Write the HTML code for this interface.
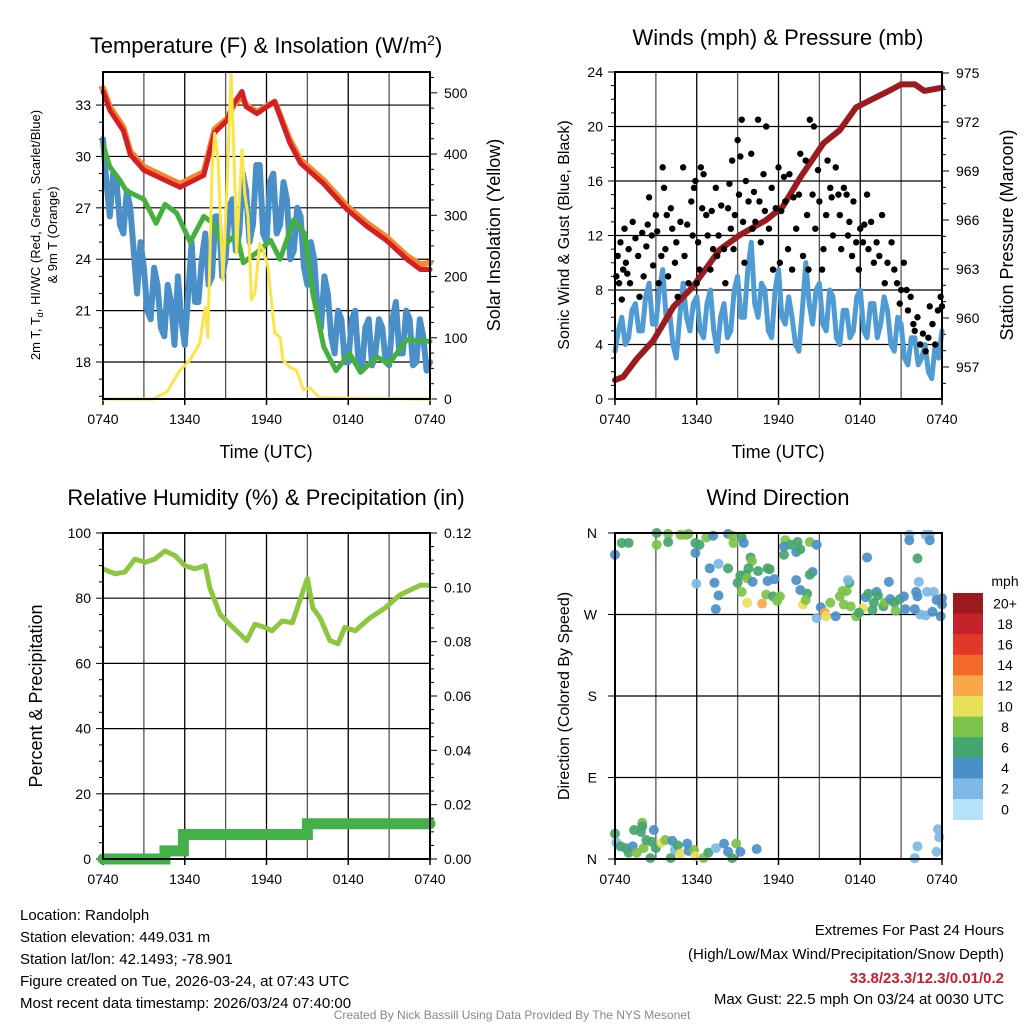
<!DOCTYPE html>
<html><head><meta charset="utf-8"><style>
body{margin:0;background:#fff;}
svg{display:block;font-family:"Liberation Sans",Arial,sans-serif;}
</style></head><body>
<svg id="c" width="1024" height="1024" viewBox="0 0 1024 1024" xmlns="http://www.w3.org/2000/svg">
<rect width="1024" height="1024" fill="#fff"/>
<text x="266" y="53" font-size="22" text-anchor="middle">Temperature (F) &amp; Insolation (W/m<tspan dy="-8" font-size="14">2</tspan><tspan dy="8">)</tspan></text>
<text x="778" y="45" font-size="22" text-anchor="middle">Winds (mph) &amp; Pressure (mb)</text>
<text x="266" y="505" font-size="22" text-anchor="middle">Relative Humidity (%) &amp; Precipitation (in)</text>
<text x="778" y="505" font-size="22" text-anchor="middle">Wind Direction</text>
<text x="266" y="458" font-size="18" text-anchor="middle">Time (UTC)</text>
<text x="778" y="458" font-size="18" text-anchor="middle">Time (UTC)</text>
<text transform="translate(40,235) rotate(-90)" font-size="13" text-anchor="middle">2m T, T<tspan font-size="9" dy="3">d</tspan><tspan dy="-3">, HI/WC (Red, Green, Scarlet/Blue)</tspan></text>
<text transform="translate(57,235) rotate(-90)" font-size="13" text-anchor="middle">&amp; 9m T (Orange)</text>
<text transform="translate(500,235) rotate(-90)" font-size="18" text-anchor="middle">Solar Insolation (Yellow)</text>
<text transform="translate(569,235) rotate(-90)" font-size="16" text-anchor="middle">Sonic Wind &amp; Gust (Blue, Black)</text>
<text transform="translate(1013,235) rotate(-90)" font-size="18" text-anchor="middle">Station Pressure (Maroon)</text>
<text transform="translate(42,696) rotate(-90)" font-size="18" text-anchor="middle">Percent &amp; Precipitation</text>
<text transform="translate(569,696) rotate(-90)" font-size="16" text-anchor="middle">Direction (Colored By Speed)</text>
<g font-size="15">
<text x="20" y="920">Location: Randolph</text>
<text x="20" y="942">Station elevation: 449.031 m</text>
<text x="20" y="964">Station lat/lon: 42.1493; -78.901</text>
<text x="20" y="986">Figure created on Tue, 2026-03-24, at 07:43 UTC</text>
<text x="20" y="1008">Most recent data timestamp: 2026/03/24 07:40:00</text>
</g>
<g font-size="15" text-anchor="end">
<text x="1004" y="935">Extremes For Past 24 Hours</text>
<text x="1004" y="959">(High/Low/Max Wind/Precipitation/Snow Depth)</text>
<text x="1004" y="983" fill="#c8202a" font-weight="bold">33.8/23.3/12.3/0.01/0.2</text>
<text x="1004" y="1004">Max Gust: 22.5 mph On 03/24 at 0030 UTC</text>
</g>
<text x="512" y="1019" font-size="12" fill="#888" text-anchor="middle">Created By Nick Bassill Using Data Provided By The NYS Mesonet</text>
<g id="plots"></g>
</svg>
<script>
// ---- Temperature panel data ----
const redHours=[0,0.5,1.5,2,3,5.65,7.4,8.2,9.1,9.6,10.2,10.5,11.3,12.6,13.7,14.5,16.2,17.9,19.4,20.8,22.3,23.3,24];
const redTemps=[33.8,32.7,31.5,30.1,29.2,28.2,28.9,31.4,32.1,33.1,33.8,32.9,32.5,33.2,30.8,29.6,28.4,26.9,25.9,25.1,24.0,23.4,23.4];
const orangeTemps=[34.0,32.9,31.7,30.3,29.4,28.4,29.1,31.6,32.2,33.0,33.5,33.0,32.6,33.2,31.0,29.8,28.6,27.1,26.1,25.3,24.2,23.7,23.8];
const greenHours=[0,0.5,1.25,1.7,3,3.9,4.55,5.4,6.4,7.4,8.1,8.8,9.8,10.3,11.3,12.3,13,14,14.8,15.4,16.2,17.1,18.1,18.9,20.1,21,22.3,24];
const greenTemps=[30.7,29.4,28.6,28.0,27.5,26.1,27.2,26.7,25.0,26.5,26.1,24.7,25.5,23.8,24.4,25.1,24.0,26.3,25.5,22.0,18.9,17.5,18.5,17.4,18.3,17.9,19.3,19.2];
const blueTemps=[31.0,28.5,26.5,29,28.5,26,25.5,28,27,24.5,22,25,23.5,21,20.5,23.5,22.5,20,19.5,22.5,21.5,19,23,20.5,19,22,25,21.5,21.5,24,25.5,22.5,23,26.5,26.5,23,24,27,27.5,24.5,25.5,29,28,25,26,29.5,29.5,25.5,25,28.5,29,25.5,26,28.5,27.5,24,24.5,27,26.5,23.5,22.5,25,24,21,20,23,22,19.5,18.5,21,20.5,18,18,20.5,21,18,17.5,20,20.5,17.8,18.5,20.5,20,18,17.8,20.5,21.5,18.5,18.5,21,20.5,17.8,18,20.5,19.5,17.5,18.0];
const solarHours=[0,3.7,4.2,4.7,5.65,6.4,7.1,7.5,7.7,8.0,8.2,8.45,8.8,9.1,9.4,9.7,9.8,10.2,10.4,10.65,10.9,11.15,11.5,11.75,12.1,12.6,13,13.2,13.7,14.2,14.7,15.2,15.9,24];
const solarVals=[0,0,6,12,47,64,91,150,101,374,434,390,194,346,532,336,238,407,336,298,162,173,254,243,216,108,101,64,52,47,15,18,2,0];
const tempTicks=[18,21,24,27,30,33];
const solarTicks=[0,100,200,300,400,500];
const timeLabels=["0740","1340","1940","0140","0740"];
// ---- Wind panel data ----
const windSpeeds=[3.5,5,6,4,4.5,6.5,7,5,5,7.5,8.5,5.5,5.5,8,9.5,6,6.5,4,3,6,8.5,6,5,7,7.5,5,4.5,7,8,5,3.5,6,7,4.5,5,8,9,6,6,9.5,11.5,7,6,8.5,8,5,4.5,8,9.5,6,5.5,7.5,6,4,3.5,6.5,10,7,5.5,8,8.5,5.5,5,8,7.5,4.5,4,6.5,6.5,4.5,5,7.5,8,5,4.5,7,7,4.5,5.5,7.5,6.5,4,3.5,6,5.5,3,2.5,4.5,4.5,2.5,3,4,2,1.5,4,3,5];
const gustObs=[[0.1,9.0],[0.2,10.5],[0.3,8.5],[0.4,11.5],[0.5,7.3],[0.6,9.5],[0.7,12.5],[0.8,10.0],[0.9,9.2],[1.0,11.0],[1.1,8.5],[1.3,13.0],[1.5,11.8],[1.7,10.5],[1.8,7.5],[2.0,12.2],[2.1,9.0],[2.3,11.2],[2.4,12.8],[2.5,14.8],[2.7,12.0],[2.8,9.8],[3.0,13.5],[3.1,12.3],[3.2,8.5],[3.4,10.5],[3.5,17.0],[3.6,15.5],[3.7,11.0],[3.8,13.5],[3.9,9.0],[4.1,14.0],[4.2,12.5],[4.4,10.0],[4.5,11.5],[4.6,7.5],[4.8,13.0],[5.0,17.0],[5.1,10.5],[5.3,12.8],[5.4,8.5],[5.6,14.5],[5.7,12.0],[5.8,15.5],[5.9,16.0],[6.0,8.5],[6.1,11.5],[6.2,9.5],[6.3,17.0],[6.4,14.0],[6.5,16.5],[6.7,13.5],[6.8,12.0],[7.0,9.5],[7.1,13.8],[7.2,11.0],[7.4,15.5],[7.5,10.5],[7.6,12.0],[7.8,14.2],[8.0,11.0],[8.1,8.5],[8.3,14.0],[8.4,15.8],[8.5,12.5],[8.6,17.5],[8.7,11.0],[8.8,13.5],[9.0,19.0],[9.1,15.0],[9.2,17.8],[9.3,20.5],[9.4,13.0],[9.5,10.0],[9.6,16.0],[9.8,14.5],[10.0,18.0],[10.1,12.5],[10.2,15.2],[10.3,13.0],[10.5,20.5],[10.6,14.5],[10.7,11.5],[10.9,16.5],[11.0,13.8],[11.1,20.0],[11.3,12.5],[11.5,15.5],[11.6,9.5],[11.8,14.0],[12.0,17.0],[12.1,10.0],[12.2,13.8],[12.4,16.3],[12.5,14.5],[12.7,11.0],[12.8,16.5],[13.0,9.5],[13.1,14.8],[13.3,12.5],[13.5,15.0],[13.6,18.0],[13.8,10.5],[14.0,17.5],[14.1,13.5],[14.2,9.5],[14.3,20.5],[14.5,15.0],[14.6,20.0],[14.7,12.5],[14.9,16.8],[15.0,14.5],[15.2,9.5],[15.3,11.0],[15.5,13.5],[15.6,17.5],[15.8,15.5],[15.9,14.8],[16.0,12.0],[16.2,17.0],[16.4,15.0],[16.5,13.5],[16.6,11.0],[16.8,15.5],[17.0,15.0],[17.1,12.0],[17.2,13.0],[17.4,10.5],[17.5,14.5],[17.7,11.5],[17.9,9.5],[18.0,12.5],[18.2,11.5],[18.3,12.8],[18.5,15.0],[18.6,11.0],[18.8,13.0],[19.0,10.0],[19.2,11.5],[19.4,10.5],[19.6,13.5],[19.8,8.5],[20.0,10.0],[20.3,11.5],[20.5,9.5],[20.7,8.5],[20.9,7.0],[21.0,8.0],[21.2,10.0],[21.4,8.0],[21.5,6.5],[21.7,7.5],[21.9,5.5],[22.0,5.0],[22.2,6.0],[22.4,4.0],[22.6,4.8],[22.8,3.5],[23.0,4.5],[23.1,6.8],[23.3,5.5],[23.5,4.0],[23.7,6.5],[23.9,7.5],[24.0,6.8]];
const pressHours=[0,0.6,1.6,2.8,4.3,5.7,7.7,9.2,11.1,12.3,13.6,15.3,16.5,17.7,18.9,20.1,21,22,22.7,24];
const pressVals=[956.2,956.4,957.5,958.6,960.7,961.9,964.2,965.1,966.0,966.8,968.6,970.7,971.5,972.9,973.4,973.9,974.3,974.3,973.9,974.1];
const windTicks=[0,4,8,12,16,20,24];
const pressTicks=[957,960,963,966,969,972,975];
// ---- RH panel data ----
const rhHours=[0,0.9,1.6,2.35,3.1,3.8,4.55,5.3,6.0,6.75,7.5,7.85,8.6,9.3,10.05,10.55,11.15,11.9,12.4,13.15,13.9,14.5,15.0,15.4,15.925,16.65,17.25,17.75,18.5,19.6,20.7,21.8,22.55,23.3,24];
const rhVals=[89,87.5,88,92,91,92,94.5,93,90,89,90,83,75,72,69,67,72,71,70,73,72.5,80,86,77,74,67,66,71,70,74,77,81,82.5,84,84];
const precipHours=[0,4.55,4.55,5.9,5.9,15.0,15.0,24];
const precipVals=[0,0,0.003,0.003,0.009,0.009,0.013,0.013];
const rhTicks=[0,20,40,60,80,100];
const precipTicks=["0.00","0.02","0.04","0.06","0.08","0.10","0.12"];
// ---- Wind direction data: [hour, degrees, speed] ----
const dirObs=[[0,336,4],[0.5,349,6],[1.0,349,6],[3.06,360,6],[3.06,347,8],[3.9,359,8],[3.9,350,6],[4.8,358,8],[5.2,358,8],[5.4,359,8],[5.9,349,6],[5.9,338,4],[6.2,347,6],[6.7,355,8],[7.2,357,4],[6.95,321,4],[7.6,326,2],[8.3,321,6],[5.97,304,2],[7.3,305,4],[7.6,291,4],[7.4,276,4],[8.3,359,4],[8.6,357,8],[8.7,349,8],[9.3,355,6],[9.45,349,4],[9.95,333,6],[10.05,329,8],[9.8,321,6],[9.6,314,6],[9.2,313,6],[9.0,305,6],[9.7,310,8],[10.1,306,4],[10.5,318,6],[11.2,321,6],[11.35,320,6],[11.2,307,4],[11.7,309,4],[9.3,295,8],[9.7,283,10],[10.8,282,12],[11.1,292,8],[11.6,290,6],[11.9,285,8],[12.1,290,8],[12.5,352,8],[12.4,345,4],[12.9,347,6],[13.4,350,6],[13.3,339,4],[13.6,342,6],[12.4,336,6],[13.3,308,4],[13.6,297,4],[14.1,293,6],[13.8,281,10],[14.0,286,8],[14.3,350,8],[14.8,347,4],[14.5,317,4],[14.3,314,6],[14.8,266,2],[15.1,278,4],[15.4,272,12],[15.5,268,10],[15.8,283,8],[16.2,268,4],[16.5,290,8],[16.7,296,8],[17.0,296,8],[17.2,305,6],[17.1,308,2],[16.8,281,8],[17.3,279,8],[17.7,268,8],[18.2,277,10],[17.9,272,6],[18.5,333,4],[18.4,289,4],[18.6,293,6],[18.9,275,6],[19.2,295,4],[19.3,291,6],[19.0,283,6],[19.7,279,6],[19.8,283,8],[20.1,306,4],[20.2,287,4],[20.5,283,6],[20.6,274,8],[20.9,287,6],[21.2,290,4],[21.3,276,4],[21.6,358,2],[21.6,352,4],[22.2,332,6],[22.3,306,2],[22.1,295,4],[22.9,295,2],[23.4,295,2],[22.8,358,1],[23.1,358,1],[23.1,352,4],[23.6,286,4],[24,288,4],[23.9,268,4],[22.4,270,2],[22.8,269,2],[22.0,276,4],[24,281,4],[23.3,273,4],[22.2,290,4],
[0,28,6],[0.1,18,2],[0.4,14,6],[0.8,12,6],[1.0,7,6],[1.3,14,4],[1.4,32,6],[1.9,30,6],[2.0,40,8],[2.0,36,6],[1.6,7,8],[2.1,12,8],[2.3,21,6],[2.6,1,6],[2.85,32,4],[2.7,19,6],[3.0,12,6],[3.4,18,10],[3.7,21,8],[4.1,1,6],[4.2,20,4],[4.4,10,2],[4.6,15,6],[4.8,6,10],[5.3,17,4],[5.4,9,4],[5.8,10,8],[5.9,3,10],[6.5,1,8],[6.85,7,6],[7.4,12,2],[8.0,17,4],[8.3,8,4],[8.6,1,6],[8.9,17,8],[9.2,8,4],[10.4,11,4],[22.0,1,2],[22.2,14,2],[23.6,8,2],[23.7,33,2],[23.8,24,1]];
const speedBins=["0","2","4","6","8","10","12","14","16","18","20+"];
const binColors=["#b5e2f8","#7db9e5","#4a8fc7","#45a56e","#7dc24a","#e8e05a","#f8a84a","#f2692b","#e0392b","#c3222a","#9b1b1e"];
const dirLabels=["N","E","S","W","N"];

const NS="http://www.w3.org/2000/svg";
const root=document.getElementById('plots');
function mk(tag,attrs,parent){const e=document.createElementNS(NS,tag);for(const k in attrs)e.setAttribute(k,attrs[k]);(parent||root).appendChild(e);return e;}
function lin(d0,d1,r0,r1){return v=>r0+(v-d0)/(d1-d0)*(r1-r0);}
function txt(x,y,s,anchor,size,parent){const t=mk('text',{x:x,y:y,'font-size':size||14,'text-anchor':anchor||'middle'},parent);t.textContent=s;return t;}
function pathFrom(xs,ys){let d='';for(let i=0;i<xs.length;i++)d+=(i?'L':'M')+xs[i].toFixed(1)+' '+ys[i].toFixed(1);return d;}

function frame(L,R,T,B,g,hGrid){
  for(let i=1;i<8;i++){const x=L+i*(R-L)/8;const l=mk('line',{x1:x,x2:x,y1:T,y2:B,stroke:i%2?'#555':'#000','stroke-width':1.3},g);}
  hGrid.forEach(y=>{const l=mk('line',{x1:L,x2:R,y1:y,y2:y,stroke:'#000','stroke-width':1.2},g);});
}
function border(L,R,T,B,g){const r=mk('rect',{x:L,y:T,width:R-L,height:B-T,fill:'none',stroke:'#000','stroke-width':2},g);}
function xAxis(L,R,B,g){const xs=lin(0,24,L,R);timeLabels.forEach((s,i)=>{const x=xs(i*6);mk('line',{x1:x,x2:x,y1:B,y2:B+6,stroke:'#000','stroke-width':1.5},g);const t=txt(x,B+25,s,'middle',14,g);});}

// ===== Panel 1: Temperature =====
(function(){
 const L=103,R=430,T=72,B=399;const g=mk('g',{});
 const xs=lin(0,24,L,R),yT=lin(15.84,34.93,B,T),yS=lin(0,534,B,T);
 frame(L,R,T,B,g,tempTicks.map(yT));
 xAxis(L,R,B,g);
 for(let v=16;v<=34;v++){mk('line',{x1:L-(v%3?4:7),x2:L,y1:yT(v),y2:yT(v),stroke:'#000'},g);}
 tempTicks.forEach(v=>{const t=txt(L-12,yT(v)+5,v,'end',14,g);});
 for(let v=0;v<=525;v+=25){mk('line',{x1:R,x2:R+(v%100?4:7),y1:yS(v),y2:yS(v),stroke:'#000'},g);}
 solarTicks.forEach(v=>{const t=txt(R+14,yS(v)+5,v,'start',14,g);});
 const clip=mk('clipPath',{id:'c1'},g);mk('rect',{x:L-4,y:60,width:R-L+8,height:B-56},clip);
 const sg=mk('g',{'clip-path':'url(#c1)','stroke-linejoin':'round','stroke-linecap':'round',fill:'none'},g);
 const bt=blueTemps.map((v,i)=>i*24/(blueTemps.length-1));
 let p=mk('path',{d:pathFrom(bt.map(xs),blueTemps.map(yT)),stroke:'#4a8fc7','stroke-width':6},sg);
 p=mk('path',{d:pathFrom(greenHours.map(xs),greenTemps.map(yT)),stroke:'#45b03f','stroke-width':5},sg);
 p=mk('path',{d:pathFrom(redHours.map(xs),orangeTemps.map(yT)),stroke:'#f5862b','stroke-width':6},sg);
 p=mk('path',{d:pathFrom(redHours.map(xs),redTemps.map(yT)),stroke:'#d32026','stroke-width':5},sg);
 p=mk('path',{d:pathFrom(solarHours.map(xs),solarVals.map(yS)),stroke:'#f9e44c','stroke-width':3},sg);
 border(L,R,T,B,g);
})();

// ===== Panel 2: Winds =====
(function(){
 const L=615,R=942,T=72,B=399;const g=mk('g',{});
 const xs=lin(0,24,L,R),yW=lin(0,24,B,T),yP=lin(955.04,975.06,B,T);
 frame(L,R,T,B,g,windTicks.map(yW));
 xAxis(L,R,B,g);
 for(let v=0;v<=24;v++){mk('line',{x1:L-(v%4?4:7),x2:L,y1:yW(v),y2:yW(v),stroke:'#000'},g);}
 windTicks.forEach(v=>{const t=txt(L-12,yW(v)+5,v,'end',14,g);});
 for(let v=956;v<=975;v++){mk('line',{x1:R,x2:R+(v%3?4:7),y1:yP(v),y2:yP(v),stroke:'#000'},g);}
 pressTicks.forEach(v=>{const t=txt(R+14,yP(v)+5,v,'start',14,g);});
 const sg=mk('g',{'stroke-linejoin':'round','stroke-linecap':'round',fill:'none'},g);
 const wt=windSpeeds.map((v,i)=>i*24/(windSpeeds.length-1));
 let p=mk('path',{d:pathFrom(wt.map(xs),windSpeeds.map(yW)),stroke:'#4f9bd4','stroke-width':5},sg);
 gustObs.forEach(o=>{const c=mk('circle',{cx:xs(o[0]),cy:yW(o[1]),r:3.2,fill:'#000'},g);});
 p=mk('path',{d:pathFrom(pressHours.map(xs),pressVals.map(yP)),stroke:'#9b1b1e','stroke-width':6},sg);
 border(L,R,T,B,g);
})();

// ===== Panel 3: RH =====
(function(){
 const L=103,R=430,T=533,B=859;const g=mk('g',{});
 const xs=lin(0,24,L,R),yR=lin(0,100,B,T),yQ=lin(0,0.12,B,T);
 frame(L,R,T,B,g,rhTicks.map(yR));
 xAxis(L,R,B,g);
 for(let v=0;v<=100;v+=5){mk('line',{x1:L-(v%20?4:7),x2:L,y1:yR(v),y2:yR(v),stroke:'#000'},g);}
 rhTicks.forEach(v=>{const t=txt(L-12,yR(v)+5,v,'end',14,g);});
 for(let v=0;v<=0.1201;v+=0.005){mk('line',{x1:R,x2:R+(Math.round(v*1000)%20?4:7),y1:yQ(v),y2:yQ(v),stroke:'#000'},g);}
 precipTicks.forEach(s=>{const t=txt(R+14,yQ(parseFloat(s))+5,s,'start',14,g);});
 let p=mk('path',{d:pathFrom(rhHours.map(xs),rhVals.map(yR)),stroke:'#8dc63f','stroke-width':5,fill:'none','stroke-linejoin':'round'},g);
 p=mk('path',{d:pathFrom(precipHours.map(xs),precipVals.map(yQ)),stroke:'#44b04a','stroke-width':11,fill:'none','stroke-linecap':'round'},g);
 border(L,R,T,B,g);
})();

// ===== Panel 4: Wind direction =====
(function(){
 const L=615,R=942,T=533,B=859;const g=mk('g',{});
 const xs=lin(0,24,L,R),yD=lin(0,360,B,T);
 frame(L,R,T,B,g,dirLabels.map((s,i)=>yD(i*90)));
 xAxis(L,R,B,g);
 dirLabels.forEach((s,i)=>{mk('line',{x1:L-7,x2:L,y1:yD(i*90),y2:yD(i*90),stroke:'#000'},g);const t=txt(L-18,yD(i*90)+5,s,'end',14,g);});
 dirObs.forEach(o=>{const b=Math.min(10,Math.floor(o[2]/2+0.5));const c=mk('circle',{cx:xs(o[0]),cy:yD(o[1]),r:5,fill:binColors[b],'fill-opacity':0.92},g);});
 border(L,R,T,B,g);
 const cb=mk('g',{});
 const top=593,h=20.6;
 for(let i=0;i<speedBins.length;i++){const k=speedBins.length-1-i;
  const r=mk('rect',{x:953,y:top+i*h,width:30,height:h+0.5,fill:binColors[k]},cb);
  const t=txt(1005,top+i*h+h/2+5,speedBins[k],'middle',14,cb);}
 const u=txt(1005,586,'mph','middle',14,cb);
})();
</script>
</body></html>
